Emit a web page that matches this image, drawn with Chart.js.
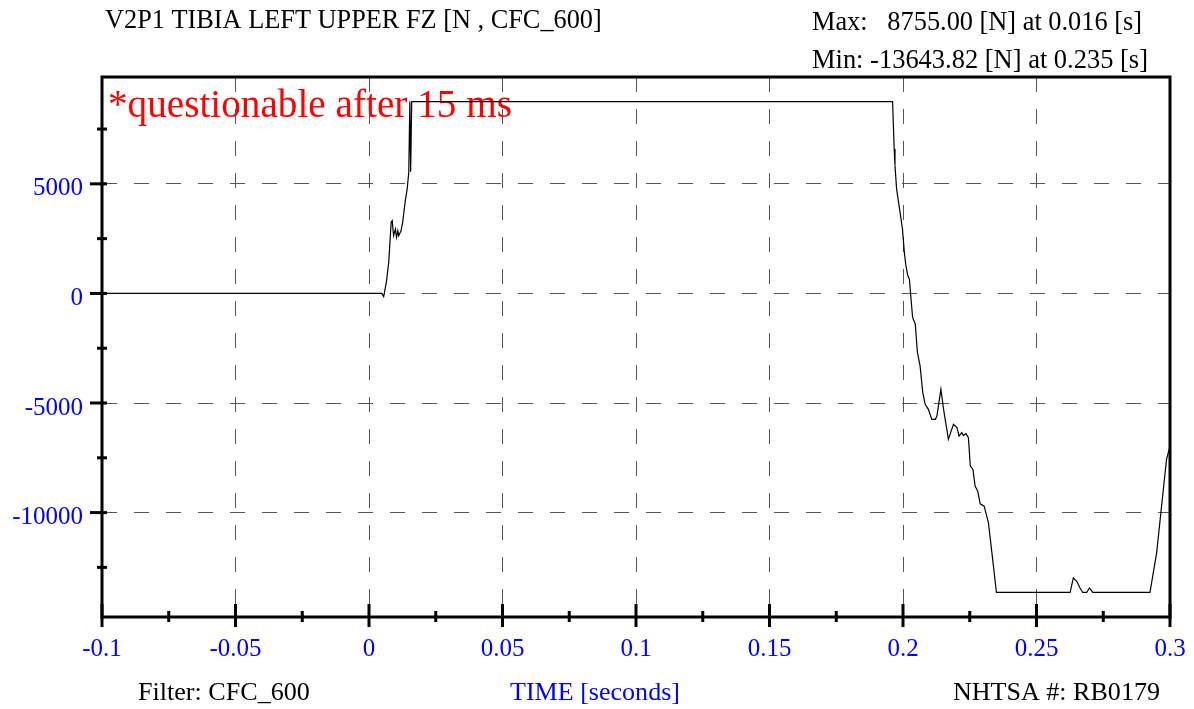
<!DOCTYPE html>
<html>
<head>
<meta charset="utf-8">
<script src="https://cdn.jsdelivr.net/npm/chart.js@4.4.1/dist/chart.umd.min.js"></script>
<style>
  html, body { margin: 0; padding: 0; background: #ffffff; }
  #wrap { width: 1194px; height: 709px; position: relative; }
</style>
</head>
<body>
<div id="wrap"><canvas id="c" width="1194" height="709"></canvas></div>
<script>
// ---- data ----
const timeSeconds = [
  -0.1, 0.004, 0.0048, 0.0055, 0.0065, 0.0074, 0.0083, 0.0087, 0.0092, 0.0099,
  0.0103, 0.0108, 0.0111, 0.0120, 0.0126, 0.0136, 0.0143, 0.0149, 0.0153, 0.0156,
  0.0160, 0.1961, 0.1967, 0.1970, 0.1976, 0.1989, 0.1998, 0.2005, 0.2011, 0.2018,
  0.2024, 0.2029, 0.2036, 0.2046, 0.2054, 0.2064, 0.2074, 0.2083, 0.2095, 0.2108,
  0.2121, 0.2127, 0.2142, 0.2152, 0.2170, 0.2189, 0.2202, 0.2210, 0.2220, 0.2226,
  0.2236, 0.2245, 0.2252, 0.2262, 0.2270, 0.2280, 0.2289, 0.2304, 0.2320, 0.2333,
  0.2350, 0.2626, 0.2638, 0.2651, 0.2663, 0.2673, 0.2688, 0.2698, 0.2711, 0.2925,
  0.2950, 0.2975, 0.2987, 0.3000
];
const forceN = [
  0, 0, 0, -140, 500, 1430, 3245, 3320, 2633, 2940,
  2560, 2860, 2633, 2860, 3245, 4233, 4767, 5530, 8755, 5550,
  8755, 8755, 6595, 5832, 4767, 3702, 2940, 1874, 1262, 805,
  654, -110, -1097, -1403, -2697, -3309, -4525, -5060, -5288, -5745,
  -5745, -5594, -4374, -5288, -6659, -5974, -6125, -6508, -6353, -6477,
  -6399, -6582, -7879, -8030, -8793, -9022, -9598, -9708, -10466, -11837,
  -13643.82, -13643.82, -12980, -13136, -13440, -13643.82, -13643.82, -13440, -13643.82, -13643.82,
  -11837, -8944, -7573, -6964
];
const xMin = -0.1, xMax = 0.3;
const yMin = -14764, yMax = 9875;
// tick positions (majors carry labels, minors are unlabelled marks)
const xTickValues = [-0.1, -0.075, -0.05, -0.025, 0, 0.025, 0.05, 0.075, 0.1, 0.125,
                     0.15, 0.175, 0.2, 0.225, 0.25, 0.275, 0.3];
const xTickLabels = ['-0.1', '', '-0.05', '', '0', '', '0.05', '', '0.1', '',
                     '0.15', '', '0.2', '', '0.25', '', '0.3'];
const yTickValues = [-12500, -10000, -7500, -5000, -2500, 0, 2500, 5000, 7500];
const yTickLabels = ['', '-10000', '', '-5000', '', '0', '', '5000', ''];

const titleText = "V2P1 TIBIA LEFT UPPER FZ [N , CFC_600]";
const maxText = "Max:   8755.00 [N] at 0.016 [s]";
const minText = "Min: -13643.82 [N] at 0.235 [s]";
const noteText = "*questionable after 15 ms";
const filterText = "Filter: CFC_600";
const xTitleText = "TIME [seconds]";
const idText = "NHTSA #: RB0179";

const SERIF = '"Liberation Serif", "Times New Roman", serif';

function fitText(ctx, text, x, y, width, color) {
  ctx.save();
  ctx.font = '40px ' + SERIF;
  const w = ctx.measureText(text).width;
  const size = 40 * width / w;
  ctx.font = size.toFixed(2) + 'px ' + SERIF;
  ctx.textAlign = 'left';
  ctx.textBaseline = 'alphabetic';
  ctx.fillStyle = color;
  ctx.fillText(text, x, y);
  ctx.restore();
}

const decor = {
  id: 'decor',
  beforeDraw(chart) {
    const ctx = chart.ctx;
    ctx.save();
    ctx.fillStyle = '#ffffff';
    ctx.fillRect(0, 0, chart.width, chart.height);
    ctx.restore();
    fitText(ctx, noteText, 108, 117, 404, '#ff0000');
  },
  afterDraw(chart) {
    const ctx = chart.ctx;
    const a = chart.chartArea;
    const xs = chart.scales.x, ys = chart.scales.y;
    ctx.save();
    ctx.strokeStyle = '#000000';
    ctx.lineWidth = 3;
    ctx.strokeRect(a.left, a.top, a.right - a.left, a.bottom - a.top);
    yTickValues.forEach((v, i) => {
      const p = ys.getPixelForValue(v);
      const major = yTickLabels[i] !== '';
      ctx.beginPath();
      ctx.moveTo(a.left - (major ? 12 : 5), p);
      ctx.lineTo(a.left + 5, p);
      ctx.stroke();
    });
    xTickValues.forEach((v, i) => {
      const p = xs.getPixelForValue(v);
      const major = xTickLabels[i] !== '';
      ctx.beginPath();
      ctx.moveTo(p, a.bottom - (major ? 13 : 6));
      ctx.lineTo(p, a.bottom + (major ? 10 : 5));
      ctx.stroke();
    });
    ctx.restore();
    fitText(ctx, titleText, 105, 28, 497, '#000000');
    fitText(ctx, maxText, 812, 30, 330, '#000000');
    fitText(ctx, minText, 812, 68, 336, '#000000');
    fitText(ctx, filterText, 138, 700, 172, '#000000');
    fitText(ctx, xTitleText, 510, 700, 170, '#0000ff');
    fitText(ctx, idText, 953, 700, 207, '#000000');
  }
};

const points = timeSeconds.map((t, i) => ({ x: t, y: forceN[i] }));

const gridColor = labels => c => (c.tick && labels[c.index] !== '' && c.index !== undefined) ? '#555555' : 'rgba(0,0,0,0)';

new Chart(document.getElementById('c'), {
  type: 'line',
  data: {
    datasets: [{
      data: points,
      borderColor: '#000000',
      borderWidth: 1.2,
      pointRadius: 0,
      tension: 0,
      fill: false
    }]
  },
  options: {
    responsive: false,
    animation: false,
    devicePixelRatio: 1,
    layout: { padding: { top: 77, right: 24, left: 0, bottom: 0 } },
    plugins: { legend: { display: false }, tooltip: { enabled: false }, title: { display: false } },
    scales: {
      x: {
        type: 'linear',
        min: xMin, max: xMax,
        afterBuildTicks(s) { s.ticks = xTickValues.map(v => ({ value: v })); },
        afterFit(s) { s.height = 92; s.paddingLeft = 0; s.paddingRight = 0; },
        border: { display: false, dash: [15, 17] },
        grid: { drawTicks: false, lineWidth: 1, color: gridColor(xTickLabels) },
        ticks: {
          autoSkip: false,
          maxRotation: 0,
          padding: 17,
          color: '#0000ff',
          font: { family: SERIF, size: 25 },
          callback: (v, i) => xTickLabels[i]
        }
      },
      y: {
        type: 'linear',
        min: yMin, max: yMax,
        afterBuildTicks(s) { s.ticks = yTickValues.map(v => ({ value: v })); },
        afterFit(s) { s.width = 102; s.paddingTop = 0; s.paddingBottom = 0; },
        border: { display: false, dash: [15, 17] },
        grid: { drawTicks: false, lineWidth: 1, color: gridColor(yTickLabels) },
        ticks: {
          autoSkip: false,
          padding: 19,
          labelOffset: 5,
          color: '#0000ff',
          font: { family: SERIF, size: 25 },
          callback: (v, i) => yTickLabels[i]
        }
      }
    }
  },
  plugins: [decor]
});
</script>
</body>
</html>
